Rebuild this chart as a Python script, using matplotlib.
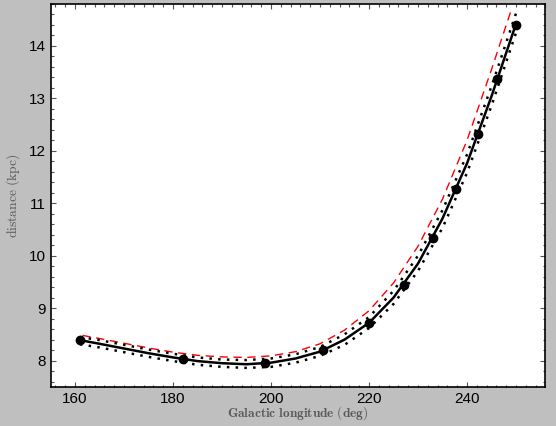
import matplotlib
matplotlib.use("Agg")
import matplotlib.pyplot as plt
from matplotlib.ticker import MultipleLocator

# ----------------------------
# Data
# ----------------------------
obs_l = [161.0, 182.0, 198.7, 210.7, 220.0, 227.1, 233.0, 237.8, 242.3, 246.1, 249.9]
obs_d = [8.39, 8.03, 7.95, 8.20, 8.72, 9.45, 10.33, 11.28, 12.31, 13.36, 14.40]

curve_l = [161, 165, 170, 175, 180, 185, 190, 195, 200, 205, 210, 215,
           220, 225, 230, 235, 240, 245, 250]
fit_d = [8.39, 8.32, 8.23, 8.14, 8.06, 7.99, 7.95, 7.93, 7.96, 8.04, 8.17, 8.40,
         8.72, 9.20, 9.85, 10.71, 11.76, 13.04, 14.42]
upper_d = [8.45, 8.39, 8.30, 8.21, 8.13, 8.06, 8.02, 8.01, 8.04, 8.12, 8.26, 8.50,
           8.83, 9.33, 10.00, 10.87, 11.93, 13.23, 14.62]
lower_d = [8.31, 8.25, 8.16, 8.07, 7.99, 7.92, 7.88, 7.86, 7.88, 7.96, 8.09, 8.30,
           8.62, 9.08, 9.71, 10.53, 11.58, 12.86, 14.25]

alt_l = [161.5, 165, 170, 175, 180, 185, 190, 195, 200, 205, 210, 215,
         220, 225, 230, 235, 240, 245, 248.9]
alt_d = [8.48, 8.42, 8.33, 8.24, 8.16, 8.10, 8.07, 8.06, 8.09, 8.17, 8.32, 8.58,
         8.95, 9.48, 10.18, 11.08, 12.20, 13.55, 14.65]

plt.rcParams["mathtext.fontset"] = "cm"

fig = plt.figure(figsize=(5.56, 4.26), dpi=100, facecolor="#bfbfbf")
ax = fig.add_axes([0.091, 0.092, 0.890, 0.899])
ax.set_facecolor("white")

ax.plot(alt_l, alt_d, color="red", lw=1.0, linestyle=(0, (6, 4)))
ax.plot(curve_l, upper_d, color="black", lw=1.8, linestyle=(0, (1, 2.5)))
ax.plot(curve_l, lower_d, color="black", lw=1.8, linestyle=(0, (1, 2.5)))
ax.plot(curve_l, fit_d, color="black", lw=1.8)
ax.plot(obs_l, obs_d, "o", color="black", ms=6)

ax.set_xlim(155, 256)
ax.set_ylim(7.5, 14.8)
ax.xaxis.set_major_locator(MultipleLocator(20))
ax.xaxis.set_minor_locator(MultipleLocator(2))
ax.yaxis.set_major_locator(MultipleLocator(1))
ax.yaxis.set_minor_locator(MultipleLocator(0.2))
ax.tick_params(which="both", direction="in", top=True, right=True, color="#555555")
ax.tick_params(which="major", length=3.5, width=0.8)
ax.tick_params(which="minor", length=1.8, width=0.8)
for lab in ax.get_xticklabels() + ax.get_yticklabels():
    lab.set_fontfamily("Liberation Sans")
    lab.set_fontsize(11)
for sp in ax.spines.values():
    sp.set_linewidth(1.2)

ax.set_xlabel(r"$\mathbf{Galactic\ longitude\ (deg)}$", fontsize=9.6, color="#5a5a5a", labelpad=-1)
ax.set_ylabel(r"$\mathrm{distance\ (kpc)}$", fontsize=9.8, color="#5a5a5a", labelpad=5)

fig.savefig("out.png", dpi=100, facecolor=fig.get_facecolor())
plt.close(fig)
